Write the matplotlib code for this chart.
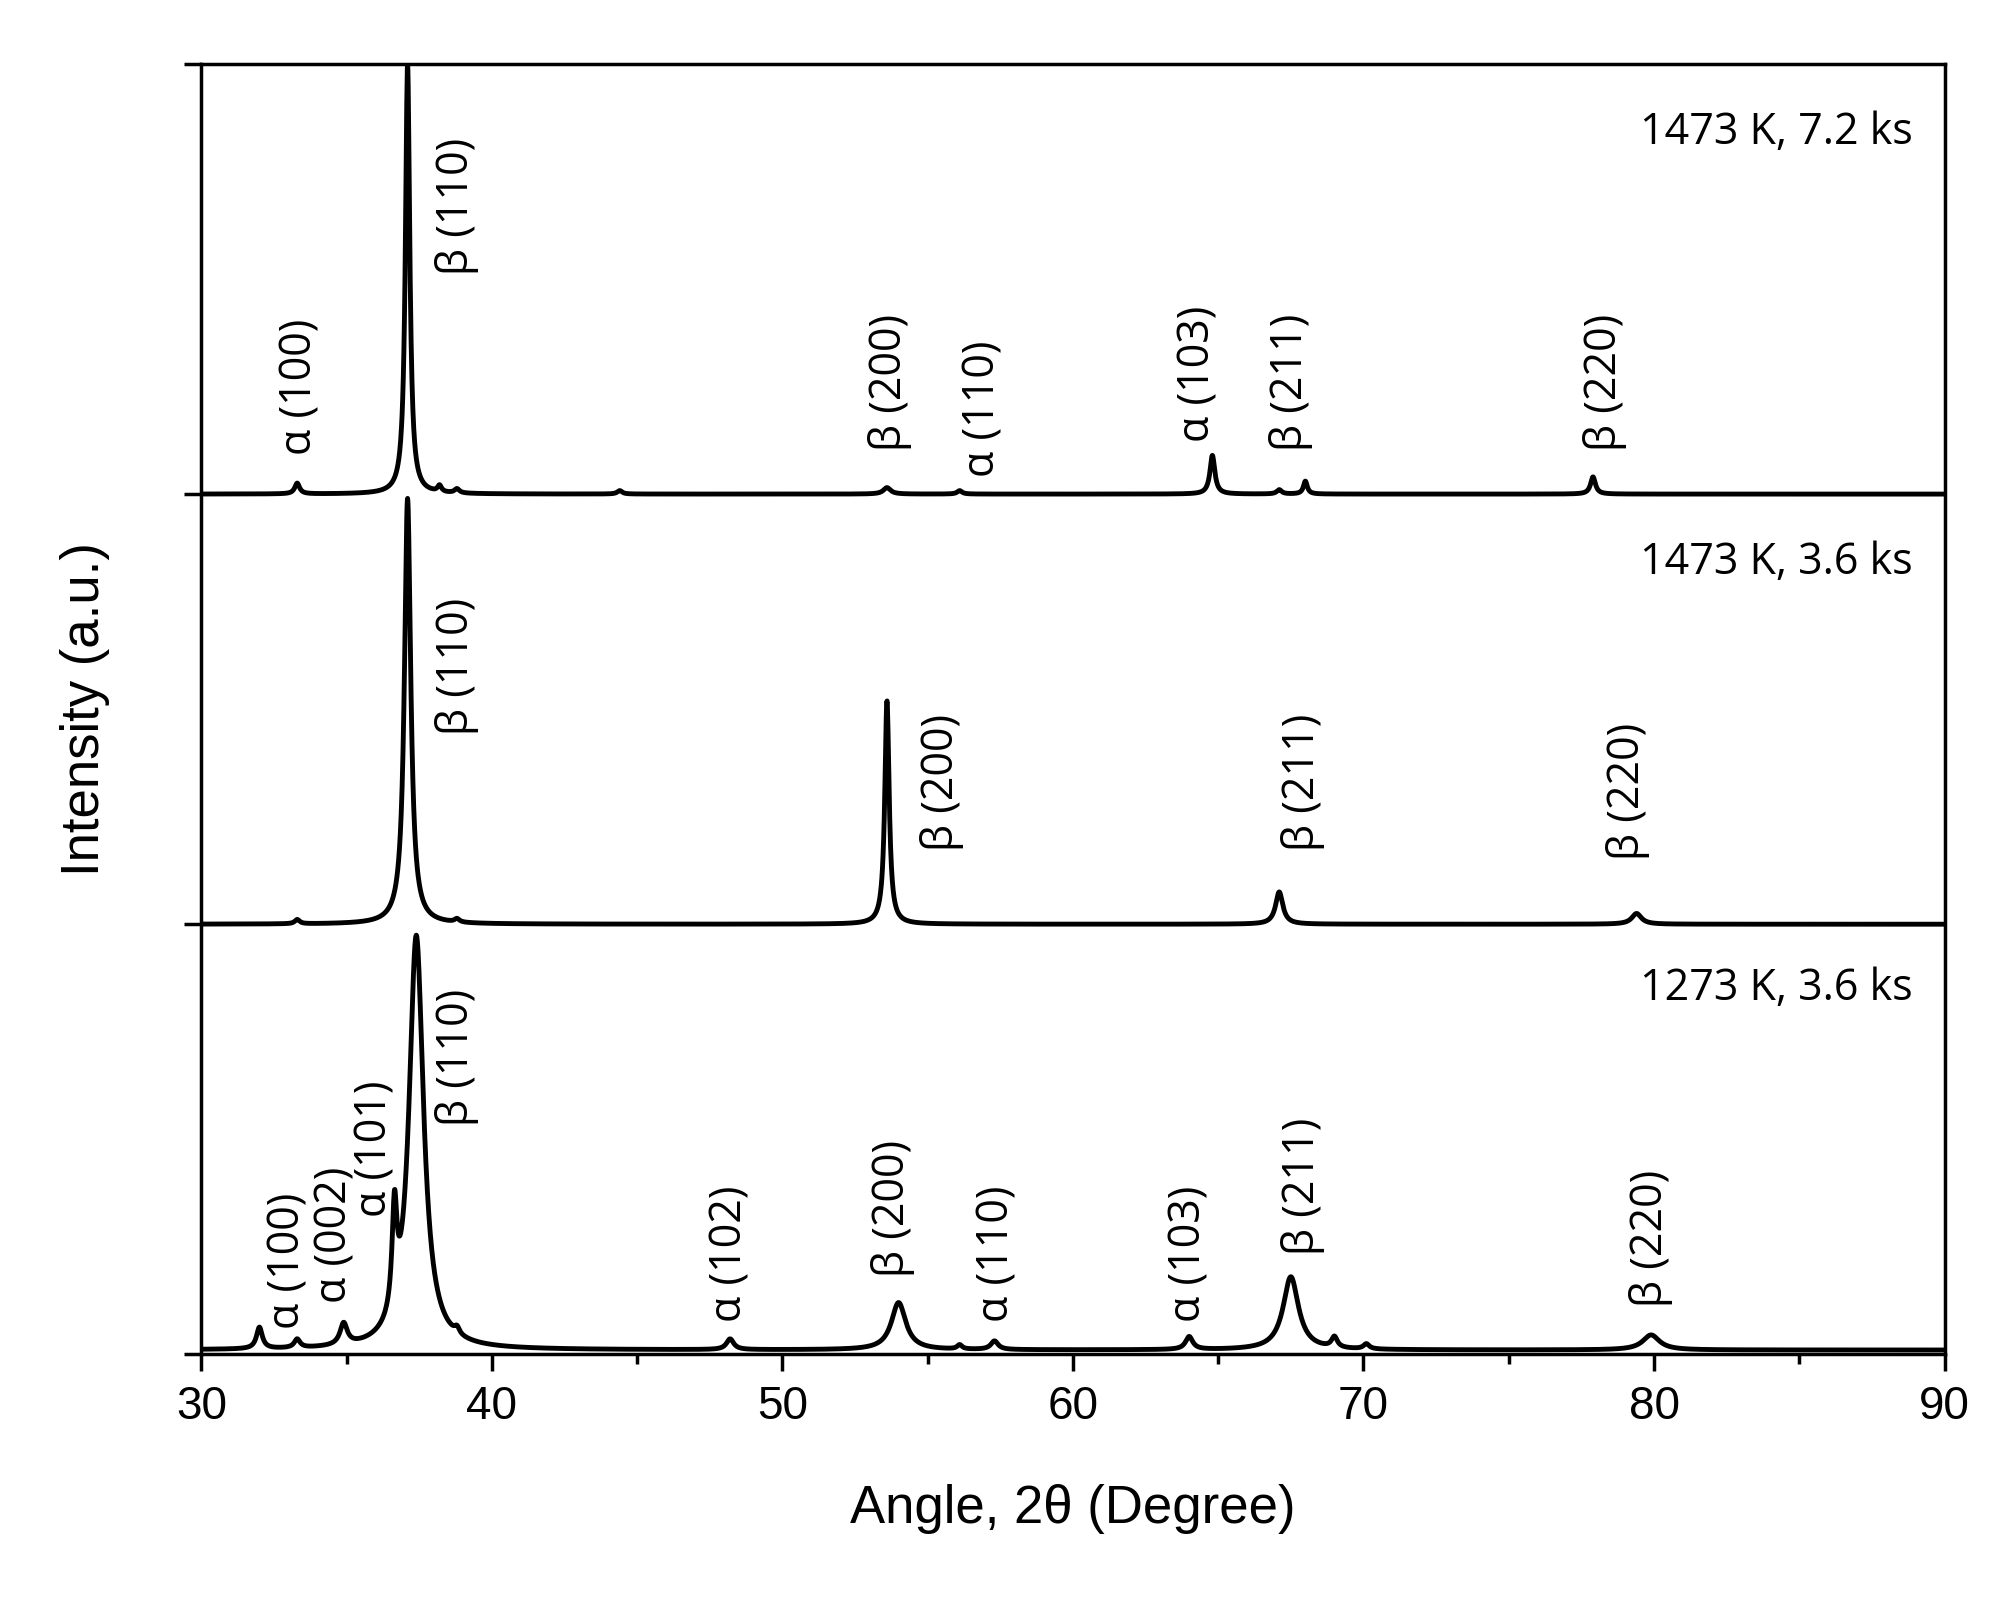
import numpy as np
import matplotlib.pyplot as plt
from matplotlib.ticker import MultipleLocator

# peak tables per pattern: position (2theta), height (panel units), half width
bot_pos = [32.0, 33.3, 34.9, 36.65, 37.4, 38.8, 48.2, 54.0, 56.1, 57.3, 64.0, 67.5, 69.0, 70.1, 79.9]
bot_h   = [0.05, 0.02, 0.05, 0.24, 0.96, 0.015, 0.025, 0.11, 0.01, 0.02, 0.03, 0.17, 0.025, 0.012, 0.035]
bot_w   = [0.12, 0.12, 0.15, 0.10, 0.3, 0.1, 0.15, 0.3, 0.1, 0.15, 0.15, 0.32, 0.12, 0.12, 0.35]

mid_pos = [33.3, 37.1, 38.8, 53.6, 67.1, 79.4]
mid_h   = [0.01, 0.99, 0.008, 0.52, 0.075, 0.025]
mid_w   = [0.1, 0.13, 0.1, 0.09, 0.15, 0.2]

top_pos = [33.3, 37.1, 38.2, 38.8, 44.4, 53.6, 56.1, 64.8, 67.1, 68.0, 77.9]
top_h   = [0.025, 1.0, 0.015, 0.01, 0.008, 0.015, 0.008, 0.09, 0.01, 0.03, 0.04]
top_w   = [0.1, 0.09, 0.08, 0.1, 0.1, 0.15, 0.1, 0.1, 0.1, 0.08, 0.1]

offsets = [0.01, 1.0, 2.0]
samples = ['1273 K, 3.6 ks', '1473 K, 3.6 ks', '1473 K, 7.2 ks']
sample_y = [0.85, 1.84, 2.84]

labels_bot = [('α (100)', 33.0, 0.06), ('α (002)', 34.6, 0.12), ('α (101)', 36.0, 0.32),
              ('β (110)', 38.8, 0.53), ('α (102)', 48.2, 0.075), ('β (200)', 53.8, 0.18),
              ('α (110)', 57.4, 0.075), ('α (103)', 64.0, 0.075), ('β (211)', 67.9, 0.23),
              ('β (220)', 79.9, 0.11)]
labels_mid = [('β (110)', 38.8, 1.44), ('β (200)', 55.5, 1.17), ('β (211)', 67.9, 1.17),
              ('β (220)', 79.1, 1.15)]
labels_top = [('α (100)', 33.4, 2.09), ('β (110)', 38.8, 2.51), ('β (200)', 53.7, 2.10),
              ('α (110)', 56.9, 2.04), ('α (103)', 64.3, 2.12), ('β (211)', 67.5, 2.10),
              ('β (220)', 78.3, 2.10)]

x = np.linspace(30, 90, 6000)

def pattern(pos, h, w):
    y = np.zeros_like(x)
    for p, a, g in zip(pos, h, w):
        y += a * g**2 / ((x - p)**2 + g**2)
    return y

fig = plt.figure(figsize=(20.13, 15.99), dpi=100)
ax = fig.add_axes([0.1, 0.153, 0.866, 0.807])

for (pos, h, w), off in zip([(bot_pos, bot_h, bot_w), (mid_pos, mid_h, mid_w), (top_pos, top_h, top_w)], offsets):
    ax.plot(x, pattern(pos, h, w) + off, color='black', lw=3.5)

for s, yy in zip(samples, sample_y):
    ax.text(88.9, yy, s, ha='right', va='center', fontsize=31, family='Open Sans')

for t, xx, yy in labels_bot + labels_mid + labels_top:
    ax.text(xx, yy, t, rotation=90, ha='center', va='bottom', fontsize=31, family='Open Sans')

ax.set_xlim(30, 90)
ax.set_ylim(0, 3.0)
ax.xaxis.set_major_locator(MultipleLocator(10))
ax.xaxis.set_minor_locator(MultipleLocator(5))
ax.set_yticks([0.0, 1.0, 2.0, 3.0])
ax.set_yticklabels([])
ax.tick_params(axis='x', which='major', length=12, width=2.5, labelsize=33, pad=10)
ax.tick_params(axis='x', which='minor', length=7, width=2.5)
ax.tick_params(axis='y', length=12, width=2.5)
for lab in ax.get_xticklabels():
    lab.set_family('Liberation Sans')
for sp in ax.spines.values():
    sp.set_linewidth(2.5)
ax.set_xlabel('Angle, 2θ (Degree)', fontsize=38, family='Liberation Sans', labelpad=40)
ax.set_ylabel('Intensity (a.u.)', fontsize=38, family='Liberation Sans', labelpad=50)

fig.savefig('out.png', dpi=100)
